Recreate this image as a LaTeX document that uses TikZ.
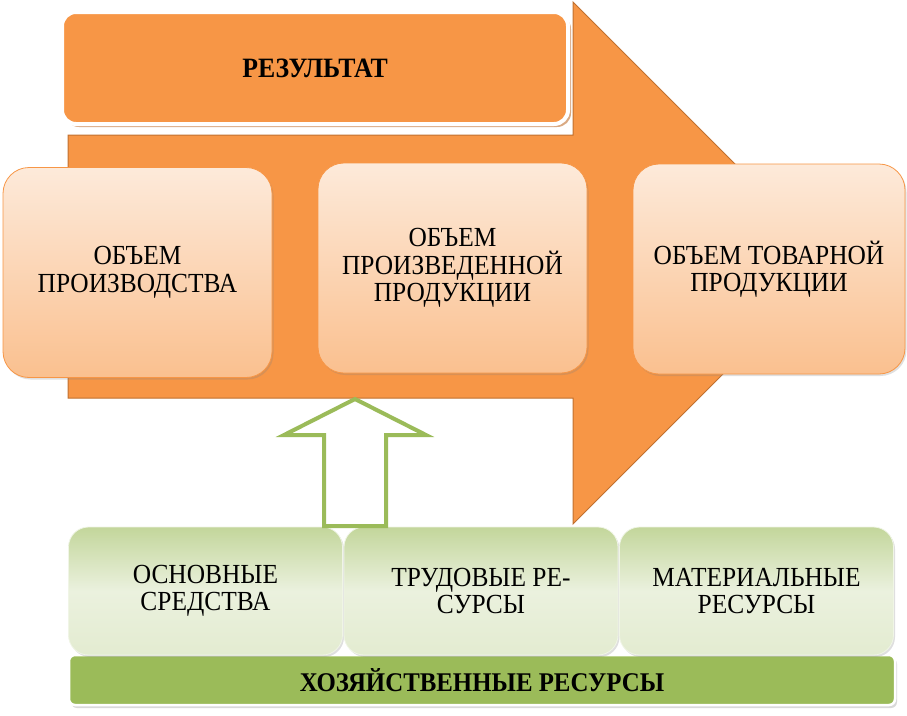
\documentclass[tikz,border=0pt]{standalone}
\usepackage{fontspec}
\setmainfont{Liberation Serif}[FakeStretch=0.92]
\usetikzlibrary{shadows}
\definecolor{orng}{HTML}{F79646}
\definecolor{orngdark}{HTML}{C0702F}
\definecolor{peach}{HTML}{FDEADA}
\definecolor{peachdark}{HTML}{FAC08F}
\definecolor{grn}{HTML}{9BBB59}
\definecolor{grnlight}{HTML}{EBF1DE}
\definecolor{grnmid}{HTML}{C3D69B}
\begin{document}
\begin{tikzpicture}[x=1pt,y=-1pt,
  txt/.style={font=\fontsize{27.6}{27.5}\selectfont, align=center},
  result/.style={txt, font=\fontsize{28}{28}\selectfont\bfseries, rounded corners=14pt, fill=orng, draw=white, line width=4pt, minimum width=506pt, minimum height=112pt, drop shadow={shadow xshift=3pt, shadow yshift=-3pt, fill=orngdark, opacity=.6}},
  volbox/.style={txt, rounded corners=26pt, draw=orng, line width=.8pt, top color=peach, bottom color=peachdark, minimum height=210pt, drop shadow={shadow xshift=1.5pt, shadow yshift=-2pt, opacity=.25}},
  resbox/.style={txt, rounded corners=20pt, draw=white!85!grn, line width=.8pt, top color=grnmid, bottom color=grnlight!80!grnmid, middle color=grnlight, minimum width=274pt, minimum height=128pt, drop shadow={shadow xshift=1.5pt, shadow yshift=-2pt, opacity=.25}},
  base/.style={txt, font=\fontsize{27}{27}\selectfont\bfseries, rounded corners=6pt, fill=grn, draw=white, line width=2.5pt, minimum width=826pt, minimum height=50pt, drop shadow={shadow xshift=2pt, shadow yshift=-3pt, opacity=.3}}]
\useasboundingbox (0,0) rectangle (907,715);
% big orange arrow
\draw[fill=orng, draw=orngdark, line width=1pt] (68,135) -- (573,135) -- (573,2) -- (834,263) -- (573,524) -- (573,398) -- (68,398) -- cycle;
\node[result] (res) at (315,68) {РЕЗУЛЬТАТ};
% volumes
\node[volbox, minimum width=269pt] (vol1) at (137.5,272.5) {ОБЪЕМ\\ПРОИЗВОДСТВА};
\node[volbox, minimum width=269pt] (vol2) at (452.5,268) {ОБЪЕМ\\ПРОИЗВЕДЕННОЙ\\ПРОДУКЦИИ};
\node[volbox, minimum width=272pt] (vol3) at (769,269) {ОБЪЕМ ТОВАРНОЙ\\ПРОДУКЦИИ};
% resources
\node[base] (eco) at (482,680) {ХОЗЯЙСТВЕННЫЕ РЕСУРСЫ};
\node[resbox] (fix) at (205.5,591) {ОСНОВНЫЕ\\СРЕДСТВА};
\node[resbox] (lab) at (481,591) {ТРУДОВЫЕ РЕ-\\СУРСЫ};
\node[resbox] (mat) at (756.5,591) {МАТЕРИАЛЬНЫЕ\\РЕСУРСЫ};
% hollow arrow
\coordinate (tip) at (355,399);
\draw[grn, line width=4pt, fill=white, line join=miter] (tip) -- ++(71,36) -- ++(-40,0) -- ++(0,91) -- ++(-62,0) -- ++(0,-91) -- ++(-40,0) -- cycle;
\end{tikzpicture}
\end{document}
